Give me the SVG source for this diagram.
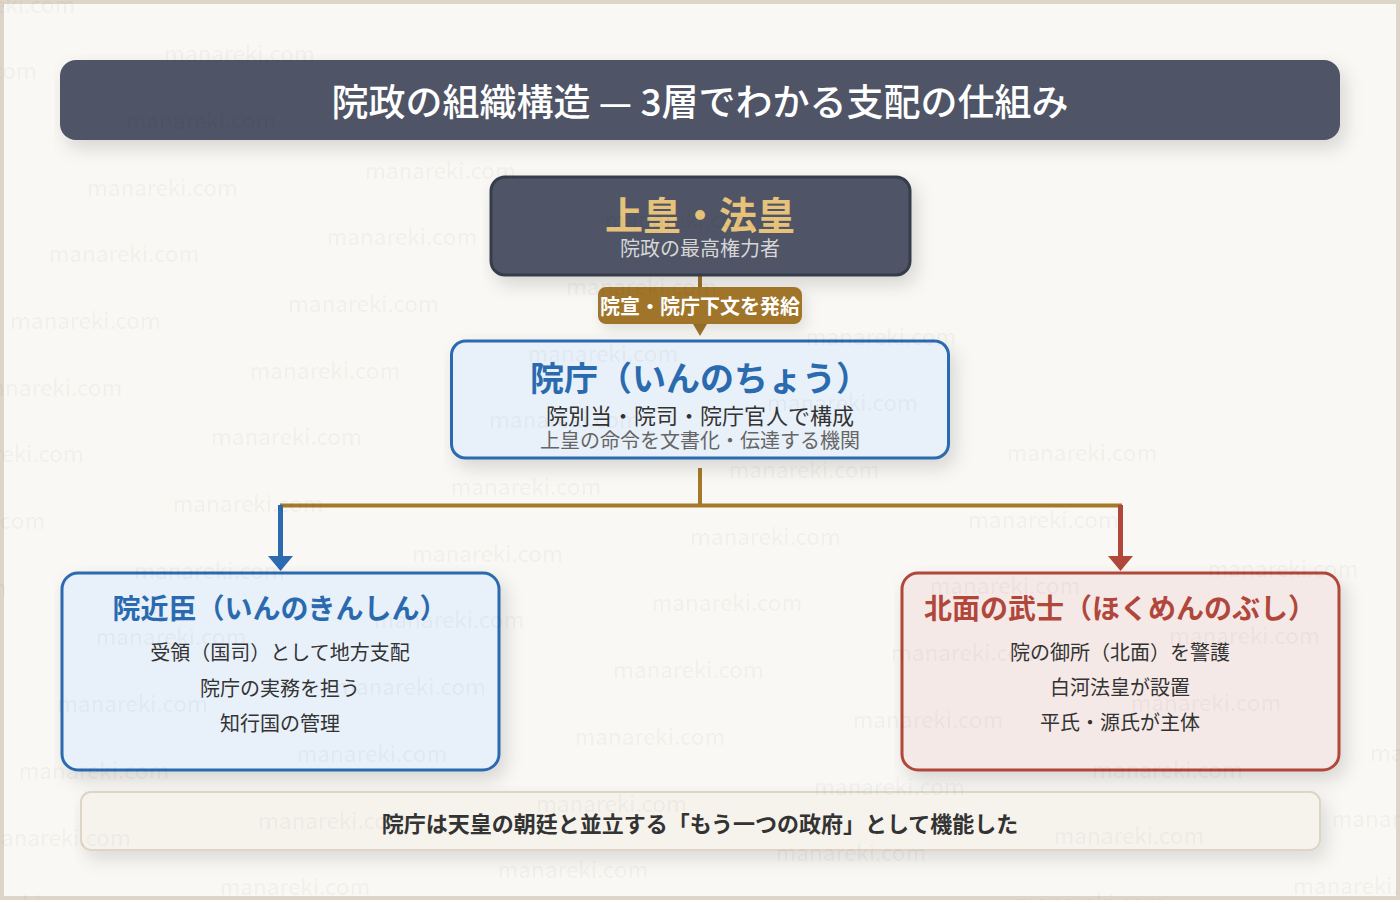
<svg xmlns="http://www.w3.org/2000/svg" width="1400" height="900" viewBox="0 0 1400 900">
<style>
.jp{font-family:"Noto Sans CJK JP","Noto Sans",sans-serif;dominant-baseline:central;text-anchor:middle}
.wm{font-family:"Noto Sans CJK JP","Noto Sans",sans-serif;font-size:22.5px;fill:#000;fill-opacity:0.055;dominant-baseline:central}
.b{font-weight:700}
</style>
<defs>
<filter id="shT" filterUnits="userSpaceOnUse" x="54" y="53" width="1316" height="117"><feDropShadow dx="5" dy="8" stdDeviation="9" flood-color="#000" flood-opacity="0.14"/></filter>
<filter id="sh1" filterUnits="userSpaceOnUse" x="483" y="169" width="457" height="136"><feDropShadow dx="5" dy="8" stdDeviation="9" flood-color="#000" flood-opacity="0.14"/></filter>
<filter id="shL" filterUnits="userSpaceOnUse" x="592" y="281" width="240" height="57"><feDropShadow dx="4" dy="6" stdDeviation="7" flood-color="#000" flood-opacity="0.10"/></filter>
<filter id="sh2" filterUnits="userSpaceOnUse" x="444" y="333" width="536" height="155"><feDropShadow dx="5" dy="8" stdDeviation="9" flood-color="#000" flood-opacity="0.14"/></filter>
<filter id="sh3" filterUnits="userSpaceOnUse" x="54" y="565" width="476" height="235"><feDropShadow dx="5" dy="8" stdDeviation="9" flood-color="#000" flood-opacity="0.14"/></filter>
<filter id="sh4" filterUnits="userSpaceOnUse" x="894" y="565" width="476" height="235"><feDropShadow dx="5" dy="8" stdDeviation="9" flood-color="#000" flood-opacity="0.14"/></filter>
<filter id="sh5" filterUnits="userSpaceOnUse" x="74" y="785" width="1276" height="95"><feDropShadow dx="5" dy="8" stdDeviation="9" flood-color="#000" flood-opacity="0.12"/></filter>
<marker id="arG" markerUnits="userSpaceOnUse" markerWidth="14" markerHeight="14" refX="0" refY="7" orient="auto"><path d="M0,0 L12,7 L0,14 Z" fill="#a0752a"/></marker>
<marker id="arB" markerUnits="userSpaceOnUse" markerWidth="16" markerHeight="26" refX="0" refY="12.5" orient="auto"><path d="M0,0 L15,12.5 L0,25 Z" fill="#2c6bb0"/></marker>
<marker id="arR" markerUnits="userSpaceOnUse" markerWidth="16" markerHeight="26" refX="0" refY="12.5" orient="auto"><path d="M0,0 L15,12.5 L0,25 Z" fill="#b0473a"/></marker>
</defs>
<rect x="0" y="0" width="1400" height="900" fill="#f9f8f4"/>
<rect x="2" y="2" width="1396" height="896" fill="none" stroke="#ddd5c7" stroke-width="4"/>

<g id="title">
<rect x="60" y="60" width="1280" height="80" rx="16" fill="#4f5566" filter="url(#shT)"/>
<text class="jp" x="700" y="100" font-size="37" font-weight="500" fill="#ffffff">院政の組織構造 — 3層でわかる支配の仕組み</text>
</g>

<g id="connectors" fill="none">
<line x1="700" y1="275" x2="700" y2="324" stroke="#a0752a" stroke-width="4" marker-end="url(#arG)"/>
<line x1="700" y1="468" x2="700" y2="507" stroke="#a47a2a" stroke-width="4"/>
<line x1="280" y1="505.5" x2="1122" y2="505.5" stroke="#a47a2a" stroke-width="4"/>
<line x1="280.5" y1="505" x2="280.5" y2="556" stroke="#2c6bb0" stroke-width="5" marker-end="url(#arB)"/>
<line x1="1120.5" y1="505" x2="1120.5" y2="556" stroke="#b0473a" stroke-width="5" marker-end="url(#arR)"/>
</g>

<g id="node-joko">
<rect x="491" y="177" width="419" height="98" rx="14" fill="#4f5566" stroke="#363c4c" stroke-width="3" filter="url(#sh1)"/>
<text class="jp b" x="700" y="212" font-size="38" fill="#e6c27b">上皇・法皇</text>
<text class="jp" x="700" y="247" font-size="20" fill="#d6d6d6">院政の最高権力者</text>
</g>

<g id="label-insen">
<rect x="598" y="287" width="204" height="37" rx="8" fill="#a0752a" filter="url(#shL)"/>
<text class="jp b" x="700" y="305.5" font-size="20" fill="#ffffff">院宣・院庁下文を発給</text>
</g>

<g id="node-incho">
<rect x="451.5" y="341" width="497" height="117" rx="14" fill="#e8f0f9" stroke="#2c6bb0" stroke-width="3" filter="url(#sh2)"/>
<text class="jp b" x="700" y="376" font-size="34" fill="#2a6aae">院庁（いんのちょう）</text>
<text class="jp" x="700" y="414" font-size="22" fill="#333333">院別当・院司・院庁官人で構成</text>
<text class="jp" x="700" y="439" font-size="20" fill="#666666">上皇の命令を文書化・伝達する機関</text>
</g>

<g id="node-inkinshin">
<rect x="62" y="573" width="437" height="197" rx="16" fill="#e8f0fa" stroke="#2c6bb0" stroke-width="3" filter="url(#sh3)"/>
<text class="jp b" x="280" y="607" font-size="28" fill="#2a6aae">院近臣（いんのきんしん）</text>
<text class="jp" x="280" y="651" font-size="20" fill="#333333">受領（国司）として地方支配</text>
<text class="jp" x="280" y="687" font-size="20" fill="#333333">院庁の実務を担う</text>
<text class="jp" x="280" y="722" font-size="20" fill="#333333">知行国の管理</text>
</g>

<g id="node-hokumen">
<rect x="902" y="573" width="437" height="197" rx="16" fill="#f5e9e7" stroke="#b0473a" stroke-width="3" filter="url(#sh4)"/>
<text class="jp b" x="1120" y="607" font-size="28" fill="#b0473a">北面の武士（ほくめんのぶし）</text>
<text class="jp" x="1120" y="651" font-size="20" fill="#333333">院の御所（北面）を警護</text>
<text class="jp" x="1120" y="686" font-size="20" fill="#333333">白河法皇が設置</text>
<text class="jp" x="1120" y="721" font-size="20" fill="#333333">平氏・源氏が主体</text>
</g>

<g id="note">
<rect x="81" y="792" width="1239" height="58" rx="10" fill="#f6f2ec" stroke="#ddd5c6" stroke-width="2" filter="url(#sh5)"/>
<text class="jp b" x="700" y="822" font-size="22" fill="#333333">院庁は天皇の朝廷と並立する「もう一つの政府」として機能した</text>
</g>

<g id="watermarks">
<text class="wm" x="-75.5" y="2.5">manareki.com</text>
<text class="wm" x="164" y="52">manareki.com</text>
<text class="wm" x="-114" y="69">manareki.com</text>
<text class="wm" x="403.5" y="102">manareki.com</text>
<text class="wm" x="125.5" y="119">manareki.com</text>
<text class="wm" x="365" y="169">manareki.com</text>
<text class="wm" x="87" y="186">manareki.com</text>
<text class="wm" x="604.5" y="218">manareki.com</text>
<text class="wm" x="326.5" y="235">manareki.com</text>
<text class="wm" x="48.5" y="252">manareki.com</text>
<text class="wm" x="566" y="285">manareki.com</text>
<text class="wm" x="288" y="302">manareki.com</text>
<text class="wm" x="10" y="319">manareki.com</text>
<text class="wm" x="805.5" y="335">manareki.com</text>
<text class="wm" x="527.5" y="352">manareki.com</text>
<text class="wm" x="249.5" y="369">manareki.com</text>
<text class="wm" x="-28.5" y="386">manareki.com</text>
<text class="wm" x="767" y="401">manareki.com</text>
<text class="wm" x="489" y="418">manareki.com</text>
<text class="wm" x="211" y="435">manareki.com</text>
<text class="wm" x="-67" y="452">manareki.com</text>
<text class="wm" x="1006.5" y="451">manareki.com</text>
<text class="wm" x="728.5" y="468">manareki.com</text>
<text class="wm" x="450.5" y="485">manareki.com</text>
<text class="wm" x="172.5" y="502">manareki.com</text>
<text class="wm" x="-105.5" y="519">manareki.com</text>
<text class="wm" x="968" y="518">manareki.com</text>
<text class="wm" x="690" y="535">manareki.com</text>
<text class="wm" x="412" y="552">manareki.com</text>
<text class="wm" x="134" y="569">manareki.com</text>
<text class="wm" x="-144" y="586">manareki.com</text>
<text class="wm" x="1207.5" y="567">manareki.com</text>
<text class="wm" x="929.5" y="584">manareki.com</text>
<text class="wm" x="651.5" y="601">manareki.com</text>
<text class="wm" x="373.5" y="618">manareki.com</text>
<text class="wm" x="95.5" y="635">manareki.com</text>
<text class="wm" x="1169" y="634">manareki.com</text>
<text class="wm" x="891" y="651">manareki.com</text>
<text class="wm" x="613" y="668">manareki.com</text>
<text class="wm" x="335" y="685">manareki.com</text>
<text class="wm" x="57" y="702">manareki.com</text>
<text class="wm" x="1130.5" y="701">manareki.com</text>
<text class="wm" x="852.5" y="718">manareki.com</text>
<text class="wm" x="574.5" y="735">manareki.com</text>
<text class="wm" x="296.5" y="752">manareki.com</text>
<text class="wm" x="18.5" y="769">manareki.com</text>
<text class="wm" x="1370" y="751">manareki.com</text>
<text class="wm" x="1092" y="768">manareki.com</text>
<text class="wm" x="814" y="785">manareki.com</text>
<text class="wm" x="536" y="802">manareki.com</text>
<text class="wm" x="258" y="819">manareki.com</text>
<text class="wm" x="-20" y="836">manareki.com</text>
<text class="wm" x="1331.5" y="817">manareki.com</text>
<text class="wm" x="1053.5" y="834">manareki.com</text>
<text class="wm" x="775.5" y="851">manareki.com</text>
<text class="wm" x="497.5" y="868">manareki.com</text>
<text class="wm" x="219.5" y="885">manareki.com</text>
<text class="wm" x="-58.5" y="902">manareki.com</text>
<text class="wm" x="1293" y="884">manareki.com</text>
<text class="wm" x="1015" y="901">manareki.com</text>
</g>
</svg>
